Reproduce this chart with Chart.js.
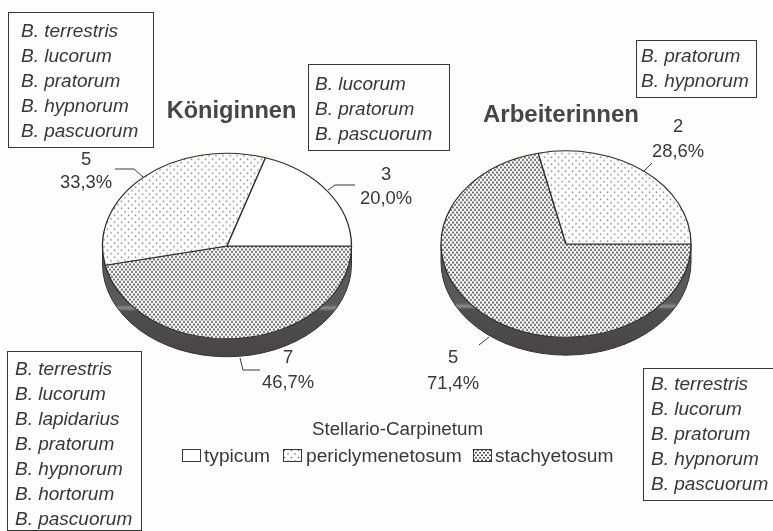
<!DOCTYPE html>
<html lang="de">
<head>
<meta charset="utf-8">
<title>Stellario-Carpinetum</title>
<script src="https://cdn.jsdelivr.net/npm/chart.js@4"></script>
<style>
  html, body { margin: 0; padding: 0; background: #fdfdfc; }
  #blatt { position: relative; width: 773px; height: 531px; overflow: hidden; }
  canvas { position: absolute; }
  svg { position: absolute; left: 0; top: 0; }
  text { font-family: "Liberation Sans", Arial, sans-serif; fill: #3b3737; }
</style>
</head>
<body>
<div id="blatt">
  <canvas id="koeniginnen" width="256" height="256" style="left:99px;top:118px"></canvas>
  <canvas id="arbeiterinnen" width="256" height="256" style="left:438px;top:116px"></canvas>
  <svg id="notizen" width="773" height="531"></svg>
</div>
<script>
// ===== Daten =====
// Reihenfolge im Uhrzeigersinn ab Osten, so wie Chart.js die Sektoren zeichnet
const koeniginnenKategorien = ["stachyetosum", "periclymenetosum", "typicum"];
const koeniginnenWerte = [7, 5, 3];
const koeniginnenProzent = ["46,7%", "33,3%", "20,0%"];

const arbeiterinnenKategorien = ["stachyetosum", "periclymenetosum"];
const arbeiterinnenWerte = [5, 2];
const arbeiterinnenProzent = ["71,4%", "28,6%"];

const legendeTitel = "Stellario-Carpinetum";
const legendeKategorien = ["typicum", "periclymenetosum", "stachyetosum"];

const artenKoeniginnenOben = ["B. terrestris", "B. lucorum", "B. pratorum", "B. hypnorum", "B. pascuorum"];
const artenKoeniginnenRechts = ["B. lucorum", "B. pratorum", "B. pascuorum"];
const artenKoeniginnenUnten = ["B. terrestris", "B. lucorum", "B. lapidarius", "B. pratorum", "B. hypnorum", "B. hortorum", "B. pascuorum"];
const artenArbeiterinnenOben = ["B. pratorum", "B. hypnorum"];
const artenArbeiterinnenUnten = ["B. terrestris", "B. lucorum", "B. pratorum", "B. hypnorum", "B. pascuorum"];

const STAUCHUNG = 0.745;  // Kreis -> Ellipse (Pseudo-3D)
const TIEFE = 18;         // Höhe der dunklen Seitenwand

// ===== Raster =====
function machMuster(ctx, name, korrekturY) {
  if (name === "typicum") return "#ffffff";
  const kachel = document.createElement("canvas");
  const k = kachel.getContext("2d");
  const dicht = name === "stachyetosum";
  kachel.width = dicht ? 4 : 7;
  kachel.height = dicht ? 5 : 7;
  k.fillStyle = "#ffffff";
  k.fillRect(0, 0, kachel.width, kachel.height);
  k.fillStyle = dicht ? "#333333" : "#666666";
  const punkte = dicht ? [[1, 1.2], [3, 3.7]] : [[1.5, 1.5], [5, 5]];
  const r = dicht ? 0.95 : 0.8;
  punkte.forEach(([x, y]) => {
    k.beginPath();
    k.arc(x, y, r, 0, Math.PI * 2);
    k.fill();
  });
  const muster = ctx.createPattern(kachel, "repeat");
  // Raster soll trotz gestauchtem Kontext unverzerrt bleiben
  muster.setTransform(new DOMMatrix().scale(1, korrekturY));
  return muster;
}

// ===== Plugin: Ellipse + Seitenwand =====
const ellipsePlugin = {
  id: "ellipse",
  beforeDatasetsDraw(chart) {
    const { ctx } = chart;
    const bogen = chart.getDatasetMeta(0).data[0];
    const { x, y, outerRadius: r } = bogen;
    const ry = r * STAUCHUNG;

    // Seitenwand
    ctx.save();
    const verlauf = ctx.createLinearGradient(0, y, 0, y + ry + TIEFE);
    verlauf.addColorStop(0, "#565656");
    verlauf.addColorStop(0.53, "#5a5a5a");
    verlauf.addColorStop(0.56, "#87908e");
    verlauf.addColorStop(0.59, "#4f4f4f");
    verlauf.addColorStop(1, "#4a4444");
    ctx.beginPath();
    ctx.moveTo(x - r, y);
    ctx.lineTo(x - r, y + TIEFE);
    ctx.ellipse(x, y + TIEFE, r, ry, 0, Math.PI, 0, true);
    ctx.lineTo(x + r, y);
    ctx.closePath();
    ctx.fillStyle = verlauf;
    ctx.fill();
    ctx.strokeStyle = "#333333";
    ctx.lineWidth = 1;
    ctx.stroke();
    ctx.restore();

    ctx.save();
    ctx.translate(x, y);
    ctx.scale(1, STAUCHUNG);
    ctx.translate(-x, -y);
  },
  afterDatasetsDraw(chart) {
    chart.ctx.restore();
  }
};

function machTorte(id, kategorien, werte, radius) {
  const ctx = document.getElementById(id).getContext("2d");
  return new Chart(ctx, {
    type: "pie",
    data: {
      labels: kategorien,
      datasets: [{
        data: werte,
        backgroundColor: kategorien.map(n => machMuster(ctx, n, 1 / STAUCHUNG)),
        borderColor: "#2e2e2e",
        borderWidth: 1.3,
        radius: radius,
        clip: false
      }]
    },
    options: {
      responsive: false,
      animation: false,
      rotation: 90,
      devicePixelRatio: 1,
      layout: { padding: 0 },
      plugins: { legend: { display: false }, tooltip: { enabled: false } }
    },
    plugins: [ellipsePlugin]
  });
}

machTorte("koeniginnen", koeniginnenKategorien, koeniginnenWerte, 124.5);
machTorte("arbeiterinnen", arbeiterinnenKategorien, arbeiterinnenWerte, 125);

// ===== Beschriftung =====
const svg = document.getElementById("notizen");
const NS = "http://www.w3.org/2000/svg";

function schreibe(inhalt, x, y, opt = {}) {
  const t = document.createElementNS(NS, "text");
  t.textContent = inhalt;
  t.setAttribute("x", x);
  t.setAttribute("y", y);
  t.setAttribute("font-size", opt.groesse || 18.4);
  if (opt.anker) t.setAttribute("text-anchor", opt.anker);
  if (opt.kursiv) t.setAttribute("font-style", "italic");
  if (opt.fett) t.setAttribute("font-weight", "bold");
  if (opt.farbe) t.style.fill = opt.farbe;
  svg.appendChild(t);
}

function linie(punkte) {
  const p = document.createElementNS(NS, "polyline");
  p.setAttribute("points", punkte);
  p.setAttribute("fill", "none");
  p.setAttribute("stroke", "#3b3737");
  p.setAttribute("stroke-width", "1");
  svg.appendChild(p);
}

function artenKasten(arten, x, y, b, h, einzug, ersteZeile) {
  const r = document.createElementNS(NS, "rect");
  r.setAttribute("x", x + 0.5);
  r.setAttribute("y", y + 0.5);
  r.setAttribute("width", b);
  r.setAttribute("height", h);
  r.setAttribute("fill", "none");
  r.setAttribute("stroke", "#3b3737");
  r.setAttribute("stroke-width", "1");
  svg.appendChild(r);
  arten.forEach((a, i) => schreibe(a, x + einzug, ersteZeile + i * 25, { kursiv: true, groesse: 19 }));
}

artenKasten(artenKoeniginnenOben, 8, 12, 145, 135, 13, 37);
artenKasten(artenKoeniginnenRechts, 308, 64, 141, 86, 7, 90);
artenKasten(artenKoeniginnenUnten, 7, 351, 134, 179, 8, 375);
artenKasten(artenArbeiterinnenOben, 636, 40, 120, 57, 5, 62);
artenKasten(artenArbeiterinnenUnten, 643, 368, 140, 132, 8, 390);

schreibe("Königinnen", 231.5, 118, { fett: true, groesse: 23.6, anker: "middle", farbe: "#4a4545" });
schreibe("Arbeiterinnen", 561, 122, { fett: true, groesse: 24, anker: "middle", farbe: "#4a4545" });

// Wert und Anteil: Zentrum x, Grundlinie Wert, Grundlinie Prozent
function wertLabel(wert, prozent, x, y1, y2) {
  schreibe(String(wert), x, y1, { anker: "middle" });
  schreibe(prozent, x, y2, { anker: "middle" });
}
wertLabel(koeniginnenWerte[2], koeniginnenProzent[2], 386, 180, 204);
wertLabel(koeniginnenWerte[1], koeniginnenProzent[1], 86, 165, 188);
wertLabel(koeniginnenWerte[0], koeniginnenProzent[0], 288, 363, 388);
wertLabel(arbeiterinnenWerte[1], arbeiterinnenProzent[1], 678, 132, 157);
wertLabel(arbeiterinnenWerte[0], arbeiterinnenProzent[0], 453, 363, 389);

linie("328,190 335,185 355,185");
linie("143,177 134,169 115,169");
linie("240,358 243,370 260,370");
linie("644,171 652,163");
linie("479,345 489,337");

// ===== Legende =====
schreibe(legendeTitel, 397.5, 435, { anker: "middle", groesse: 18.8 });
const legendeX = [[182, 204], [283, 306], [473, 495]];
legendeKategorien.forEach((name, i) => {
  const c = document.createElement("canvas");
  c.width = 19;
  c.height = 13;
  c.style.left = legendeX[i][0] + "px";
  c.style.top = "449px";
  const k = c.getContext("2d");
  k.fillStyle = machMuster(k, name, 1);
  k.fillRect(0, 0, 19, 13);
  k.strokeStyle = "#3b3737";
  k.strokeRect(0.5, 0.5, 18, 12);
  document.getElementById("blatt").appendChild(c);
  schreibe(name, legendeX[i][1], 462, { groesse: 19.2 });
});
</script>
</body>
</html>
